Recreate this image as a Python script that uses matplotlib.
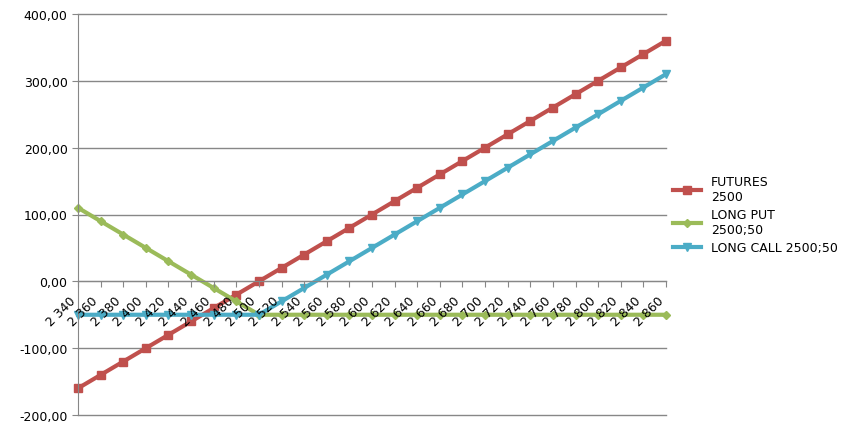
import numpy as np
import matplotlib.pyplot as plt
from matplotlib.ticker import FuncFormatter

# ценовые уровни базового актива
strikes = [2340, 2360, 2380, 2400, 2420, 2440, 2460, 2480, 2500, 2520,
           2540, 2560, 2580, 2600, 2620, 2640, 2660, 2680, 2700, 2720,
           2740, 2760, 2780, 2800, 2820, 2840, 2860]
futures = [-160, -140, -120, -100, -80, -60, -40, -20, 0, 20,
           40, 60, 80, 100, 120, 140, 160, 180, 200, 220,
           240, 260, 280, 300, 320, 340, 360]
long_put = [110, 90, 70, 50, 30, 10, -10, -30, -50, -50,
            -50, -50, -50, -50, -50, -50, -50, -50, -50, -50,
            -50, -50, -50, -50, -50, -50, -50]
long_call = [-50, -50, -50, -50, -50, -50, -50, -50, -50, -30,
             -10, 10, 30, 50, 70, 90, 110, 130, 150, 170,
             190, 210, 230, 250, 270, 290, 310]
labels = ['FUTURES\n2500', 'LONG PUT\n2500;50', 'LONG CALL 2500;50']

fig = plt.figure(figsize=(8.5, 4.31), dpi=100)
ax = fig.add_axes([0.0918, 0.0348, 0.6917, 0.9304])

# ось X проходит через ноль
ax.spines['bottom'].set_position(('data', 0))
for s in ['top', 'right']:
    ax.spines[s].set_visible(False)
for s in ['left', 'bottom']:
    ax.spines[s].set_color('#878787')

x = np.arange(len(strikes))
ax.plot(x, futures, color='#C0504D', lw=3, marker='s', ms=6, label=labels[0], clip_on=False, zorder=2)
ax.plot(x, long_put, color='#9BBB59', lw=3, marker='D', ms=4.5, label=labels[1], clip_on=False, zorder=2)
ax.plot(x, long_call, color='#4BACC6', lw=3, marker='v', ms=6, label=labels[2], clip_on=False, zorder=2)

ax.set_xlim(0, len(strikes) - 1)
ax.set_ylim(-200, 400)
ax.set_yticks(range(-200, 401, 100))
ax.yaxis.set_major_formatter(FuncFormatter(lambda v, p: f'{v:.2f}'.replace('.', ',')))
# сетка под линиями, подписи осей поверх
for yv in range(-200, 401, 100):
    ax.axhline(yv, color='#878787', lw=1, zorder=0.5, clip_on=False)
ax.set_axisbelow(False)

ax.set_xticks(x)
ax.set_xticklabels([f'{s // 1000} {s % 1000:03d}' for s in strikes])
ax.tick_params(axis='both', colors='#878787', labelcolor='black', labelsize=9,
               length=4, direction='out')
ax.tick_params(axis='x', pad=5)
plt.setp(ax.get_xticklabels(), rotation=45, ha='right')

ax.legend(loc='center left', bbox_to_anchor=(0.779, 0.5), bbox_transform=fig.transFigure,
          frameon=False, fontsize=9, handlelength=2.2, labelspacing=0.4)

fig.savefig('out.png', dpi=100)
